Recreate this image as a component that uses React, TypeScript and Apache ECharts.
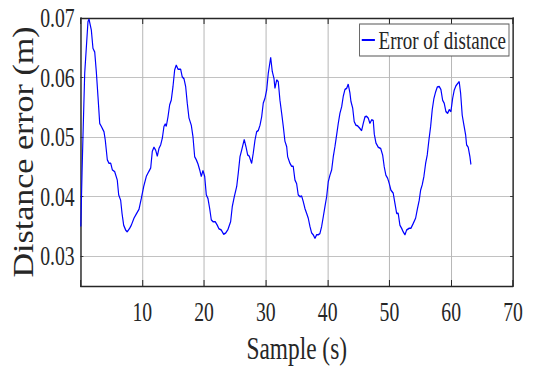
import React, { useEffect, useRef } from "react";
import * as echarts from "echarts";

const sampleTimes = [
  0.05, 0.25, 0.4, 0.68, 1.21, 1.38, 1.75, 2.02,
  2.3, 2.56, 2.83, 3.11, 3.37, 3.8, 4.01, 4.34,
  4.61, 4.89, 5.15, 5.53, 5.95, 6.18, 6.5, 6.72,
  6.99, 7.31, 7.57, 7.96, 8.22, 8.66, 9.03, 9.47,
  9.84, 10.23, 10.65, 11.04, 11.36, 11.62, 11.89, 12.17,
  12.43, 12.7, 12.98, 13.24, 13.51, 13.72, 13.88, 14.16,
  14.43, 14.69, 14.97, 15.24, 15.5, 15.78, 16.21, 16.47,
  16.75, 17.02, 17.28, 17.56, 17.93, 18.2, 18.48, 18.74,
  19.01, 19.29, 19.55, 19.82, 20.1, 20.36, 20.63, 20.91,
  21.17, 21.44, 21.81, 22.14, 22.41, 22.78, 23.17, 23.5,
  23.87, 24.3, 24.56, 24.89, 25.28, 25.53, 25.81, 26.08,
  26.5, 26.78, 27.06, 27.31, 27.7, 27.96, 28.24, 28.51,
  28.77, 29.05, 29.32, 29.58, 29.85, 30.13, 30.39, 30.55,
  30.78, 31.04, 31.31, 31.47, 31.75, 32.01, 32.28, 32.56,
  32.82, 33.09, 33.37, 33.53, 33.9, 34.17, 34.43, 34.71,
  34.98, 35.24, 35.52, 35.79, 36.05, 36.33, 36.6, 36.86,
  37.14, 37.41, 37.67, 37.95, 38.22, 38.48, 38.75, 39.03,
  39.29, 39.56, 39.84, 40.1, 40.37, 40.65, 40.91, 41.18,
  41.46, 41.72, 41.99, 42.27, 42.52, 42.8, 43.08, 43.33,
  43.61, 43.77, 44.05, 44.3, 44.58, 44.85, 45.11, 45.5,
  45.76, 46.04, 46.31, 46.57, 46.84, 47.12, 47.38, 47.55,
  47.82, 48.19, 48.58, 48.9, 49.16, 49.43, 49.71, 49.97,
  50.24, 50.61, 50.89, 51.17, 51.42, 51.7, 51.97, 52.23,
  52.51, 52.78, 53.2, 53.48, 53.85, 54.24, 54.5, 54.82,
  55.05, 55.31, 55.58, 55.86, 56.12, 56.39, 56.67, 56.93,
  57.2, 57.48, 57.74, 58.06, 58.33, 58.61, 58.87, 59.14,
  59.42, 59.68, 59.95, 60.23, 60.49, 60.76, 61.04, 61.29,
  61.52, 61.78, 62.06, 62.33, 62.49, 62.75, 63.03, 63.19,
];

const distanceErrors = [
  0.035, 0.044, 0.0501, 0.0607, 0.0694, 0.0698, 0.068, 0.0649,
  0.0643, 0.061, 0.0568, 0.0523, 0.0518, 0.0509, 0.0495, 0.0462,
  0.0456, 0.0456, 0.0445, 0.0442, 0.0428, 0.0403, 0.0394, 0.0372,
  0.0352, 0.0344, 0.0341, 0.0347, 0.0352, 0.0364, 0.0371, 0.0379,
  0.0397, 0.0417, 0.0434, 0.0442, 0.0448, 0.0476, 0.0483, 0.0478,
  0.0468, 0.0481, 0.0487, 0.0498, 0.0518, 0.0522, 0.0518, 0.0534,
  0.0554, 0.0562, 0.0585, 0.0613, 0.0621, 0.0614, 0.0614, 0.0601,
  0.0598, 0.0585, 0.0557, 0.0532, 0.052, 0.0501, 0.0467, 0.0462,
  0.0455, 0.0445, 0.0434, 0.0444, 0.0434, 0.0403, 0.0397, 0.038,
  0.0361, 0.0358, 0.0358, 0.0352, 0.0346, 0.0344, 0.0337, 0.0339,
  0.0345, 0.0358, 0.0383, 0.04, 0.0417, 0.0439, 0.0467, 0.0478,
  0.0496, 0.0484, 0.047, 0.0468, 0.0456, 0.0473, 0.0495, 0.0509,
  0.0511, 0.052, 0.0534, 0.0557, 0.0565, 0.0579, 0.0607, 0.0618,
  0.0634, 0.061, 0.0599, 0.0582, 0.0596, 0.0593, 0.0562, 0.054,
  0.0518, 0.0493, 0.0484, 0.0467, 0.0456, 0.0451, 0.0451, 0.0428,
  0.0422, 0.0403, 0.04, 0.0401, 0.0392, 0.038, 0.0372, 0.0364,
  0.035, 0.0339, 0.0336, 0.033, 0.0336, 0.0336, 0.0338, 0.035,
  0.0366, 0.0383, 0.04, 0.0425, 0.0436, 0.0445, 0.0467, 0.0484,
  0.0504, 0.0523, 0.054, 0.0551, 0.0568, 0.058, 0.0582, 0.0589,
  0.0574, 0.056, 0.0549, 0.0526, 0.052, 0.0519, 0.0516, 0.0511,
  0.0523, 0.0534, 0.0535, 0.0532, 0.0523, 0.0529, 0.0528, 0.0505,
  0.049, 0.0483, 0.0481, 0.047, 0.045, 0.0436, 0.0431, 0.0422,
  0.0411, 0.0406, 0.0389, 0.0372, 0.0372, 0.0352, 0.0347, 0.0341,
  0.0336, 0.0344, 0.0347, 0.0347, 0.0355, 0.0364, 0.0378, 0.0394,
  0.0411, 0.042, 0.0434, 0.0456, 0.047, 0.0495, 0.0518, 0.0546,
  0.0565, 0.0576, 0.0584, 0.0585, 0.058, 0.0562, 0.0557, 0.0543,
  0.054, 0.0546, 0.0543, 0.0565, 0.0579, 0.0586, 0.059, 0.0593,
  0.0574, 0.0537, 0.052, 0.0504, 0.0487, 0.0483, 0.0467, 0.0454,
];

const yTickValues = [0.03, 0.04, 0.05, 0.06, 0.07];
const seriesName = "Error of distance";
const xTitle = "Sample (s)";
const yTitle = "Distance error (m)";

const SQUEEZE = 0.73;
const W = 533;
const H = 371;
const INNER_W = Math.round(W / SQUEEZE);
const FONT = "'Liberation Serif', 'Times New Roman', serif";
const INK = "#262626";
const GRID = "#b8b8b8";

export default function App() {
  const ref = useRef<HTMLDivElement>(null);

  useEffect(() => {
    if (!ref.current) return;
    const chart = echarts.init(ref.current, null, { renderer: "svg" });
    const data = sampleTimes.map((t, i) => [t, distanceErrors[i]]);
    const gridLeft = 80.5 / SQUEEZE;
    const gridRight = INNER_W - 513 / SQUEEZE;

    chart.setOption({
      animation: false,
      backgroundColor: "#ffffff",
      grid: { left: gridLeft, right: gridRight, top: 18, bottom: 85, containLabel: false },
      legend: {
        data: [seriesName],
        right: INNER_W - 509 / SQUEEZE,
        top: 24,
        padding: [3, 4, 3, 3],
        itemWidth: 18,
        itemHeight: 2,
        icon: "rect",
        backgroundColor: "#ffffff",
        borderColor: "#555555",
        borderWidth: 1.2,
        textStyle: { fontFamily: FONT, fontSize: 26, color: INK, lineHeight: 26 },
      },
      xAxis: [
        {
          type: "value",
          min: 0,
          max: 70,
          interval: 10,
          position: "bottom",
          name: xTitle,
          nameLocation: "middle",
          nameGap: 46,
          nameTextStyle: { fontFamily: FONT, fontSize: 32, color: INK },
          axisLine: { show: true, onZero: false, lineStyle: { color: INK, width: 1.3 } },
          axisTick: { show: true, inside: true, length: 6, lineStyle: { color: INK, width: 1.4 } },
          axisLabel: {
            fontFamily: FONT,
            fontSize: 27,
            color: INK,
            margin: 12,
            formatter: (v: number) => (v === 0 ? "" : String(v)),
          },
          splitLine: { show: true, lineStyle: { color: GRID, width: 1.4 } },
        },
        {
          type: "value",
          min: 0,
          max: 70,
          interval: 10,
          position: "top",
          axisLine: { show: true, onZero: false, lineStyle: { color: INK, width: 1.3 } },
          axisTick: { show: true, inside: true, length: 6, lineStyle: { color: INK, width: 1.4 } },
          axisLabel: { show: false },
          splitLine: { show: false },
        },
      ],
      yAxis: [
        {
          type: "value",
          min: 0.025,
          max: 0.07,
          position: "left",
          axisLine: { show: true, onZero: false, lineStyle: { color: INK, width: 1.8 } },
          axisTick: {
            show: true,
            inside: true,
            length: 4,
            customValues: yTickValues,
            lineStyle: { color: INK, width: 1 },
          },
          axisLabel: {
            fontFamily: FONT,
            fontSize: 27,
            color: INK,
            margin: 8,
            customValues: yTickValues,
            formatter: (v: number) => v.toFixed(2),
          },
          splitLine: { show: true, lineStyle: { color: GRID, width: 1 } },
        },
        {
          type: "value",
          min: 0.025,
          max: 0.07,
          position: "right",
          axisLine: { show: true, onZero: false, lineStyle: { color: INK, width: 1.8 } },
          axisTick: {
            show: true,
            inside: true,
            length: 4,
            customValues: yTickValues,
            lineStyle: { color: INK, width: 1 },
          },
          axisLabel: { show: false },
          splitLine: { show: false },
        },
      ],
      graphic: [
        {
          type: "text",
          x: 32,
          y: 152,
          rotation: Math.PI / 2,
          scaleY: 1.18,
          style: {
            text: yTitle,
            fontFamily: FONT,
            fontSize: 34,
            fill: INK,
            align: "center",
            verticalAlign: "middle",
          },
        },
      ],
      series: [
        {
          name: seriesName,
          type: "line",
          xAxisIndex: 0,
          yAxisIndex: 0,
          data,
          showSymbol: false,
          symbol: "none",
          lineStyle: { color: "#0000ff", width: 1.6 },
          itemStyle: { color: "#0000ff" },
        },
      ],
    });

    return () => chart.dispose();
  }, []);

  return (
    <div
      style={{
        position: "fixed",
        left: 0,
        top: 0,
        width: W,
        height: H,
        overflow: "hidden",
        background: "#ffffff",
      }}
    >
      <div
        ref={ref}
        style={{
          width: INNER_W,
          height: H,
          transform: `scaleX(${SQUEEZE})`,
          transformOrigin: "0 0",
        }}
      />
    </div>
  );
}
